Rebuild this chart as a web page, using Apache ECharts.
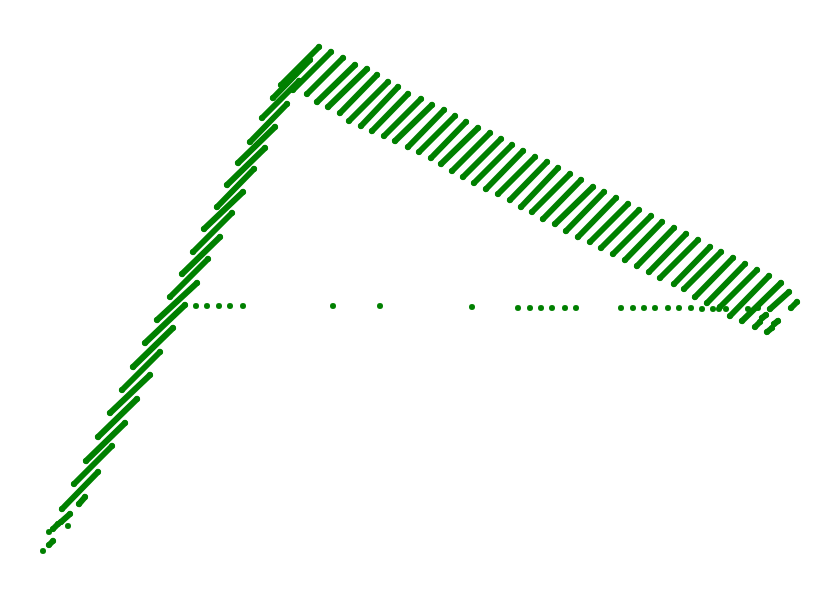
<!DOCTYPE html>
<html>
<head>
<meta charset="utf-8">
<style>html,body{margin:0;padding:0;background:#fff}#c{width:830px;height:614px}</style>
<script src="https://cdn.jsdelivr.net/npm/echarts@6/dist/echarts.min.js"></script>
</head>
<body>
<div id="c"></div>
<script>
// Rising band: upper and lower ends of each diagonal run of points
const risingUpperX = [319,310,299,287,275,265,254,243,232,220,208,197,185,173,160,150,137,125,112,98,85,70,58,53];
const risingUpperY = [47,60,81,104,127,148,169,192,213,237,259,283,305,328,352,375,399,423,446,472,497,514,524,541];
const risingLowerX = [281,273,262,250,238,227,217,204,193,182,170,157,145,133,122,110,98,86,74,62,79,61,53,49];
const risingLowerY = [85,98,118,142,163,185,207,229,252,274,297,320,343,367,390,413,437,461,484,509,504,522,529,545];
// Falling band: upper and lower ends of each diagonal run of points
const fallingUpperX = [331,343,355,367,377,388,398,408,421,432,444,455,466,478,490,501,512,523,535,547,558,570,581,593,604,616,628,639,651,662,674,686,698,710,721,733,745,757,769,781,789,797,766,760,778,772];
const fallingUpperY = [52,58,65,69,75,82,87,94,99,105,110,116,122,128,133,139,145,151,157,162,168,174,180,187,192,198,204,210,216,222,228,234,240,247,252,258,264,270,276,283,292,302,315,322,321,328];
const fallingLowerX = [293,307,317,328,340,349,361,372,384,395,408,419,431,441,452,463,474,486,498,510,521,532,543,555,566,578,590,601,613,625,637,649,660,674,684,695,707,720,730,742,770,791,762,755,774,767];
const fallingLowerY = [90,94,102,107,113,121,126,131,136,141,147,152,158,164,171,177,183,189,194,200,207,212,219,224,231,237,242,248,254,260,266,272,278,284,289,297,303,307,316,321,309,308,318,327,324,332];
// Isolated points
const dotX = [196,207,219,230,243,333,380,472,518,530,541,552,565,576,621,633,644,655,668,679,691,702,713,719,726,748,758,68,49,43];
const dotY = [306,306,306,306,306,306,306,307,308,308,308,308,308,308,308,308,308,308,308,308,308,309,309,309,309,309,308,526,532,551];

const GREEN = '#008000';
const upperX = risingUpperX.concat(fallingUpperX);
const upperY = risingUpperY.concat(fallingUpperY);
const lowerX = risingLowerX.concat(fallingLowerX);
const lowerY = risingLowerY.concat(fallingLowerY);

const runs = [];
const ends = [];
upperX.forEach((x, i) => {
  runs.push([x, upperY[i]], [lowerX[i], lowerY[i]], [null, null]);
  ends.push([x, upperY[i]], [lowerX[i], lowerY[i]]);
});
const dots = dotX.map((x, i) => [x, dotY[i]]);

const chart = echarts.init(document.getElementById('c'), null, {renderer: 'canvas'});
chart.setOption({
  animation: false,
  backgroundColor: '#fff',
  grid: {left: 0, right: 0, top: 0, bottom: 0},
  xAxis: {type: 'value', min: 0, max: 830, show: false},
  yAxis: {type: 'value', min: 0, max: 614, inverse: true, show: false},
  series: [
    {type: 'line', data: runs, showSymbol: false, connectNulls: false, silent: true,
     lineStyle: {color: GREEN, width: 6, cap: 'round'}},
    {type: 'scatter', data: ends.concat(dots), symbolSize: 6, silent: true,
     itemStyle: {color: GREEN, opacity: 1}}
  ]
});
</script>
</body>
</html>
